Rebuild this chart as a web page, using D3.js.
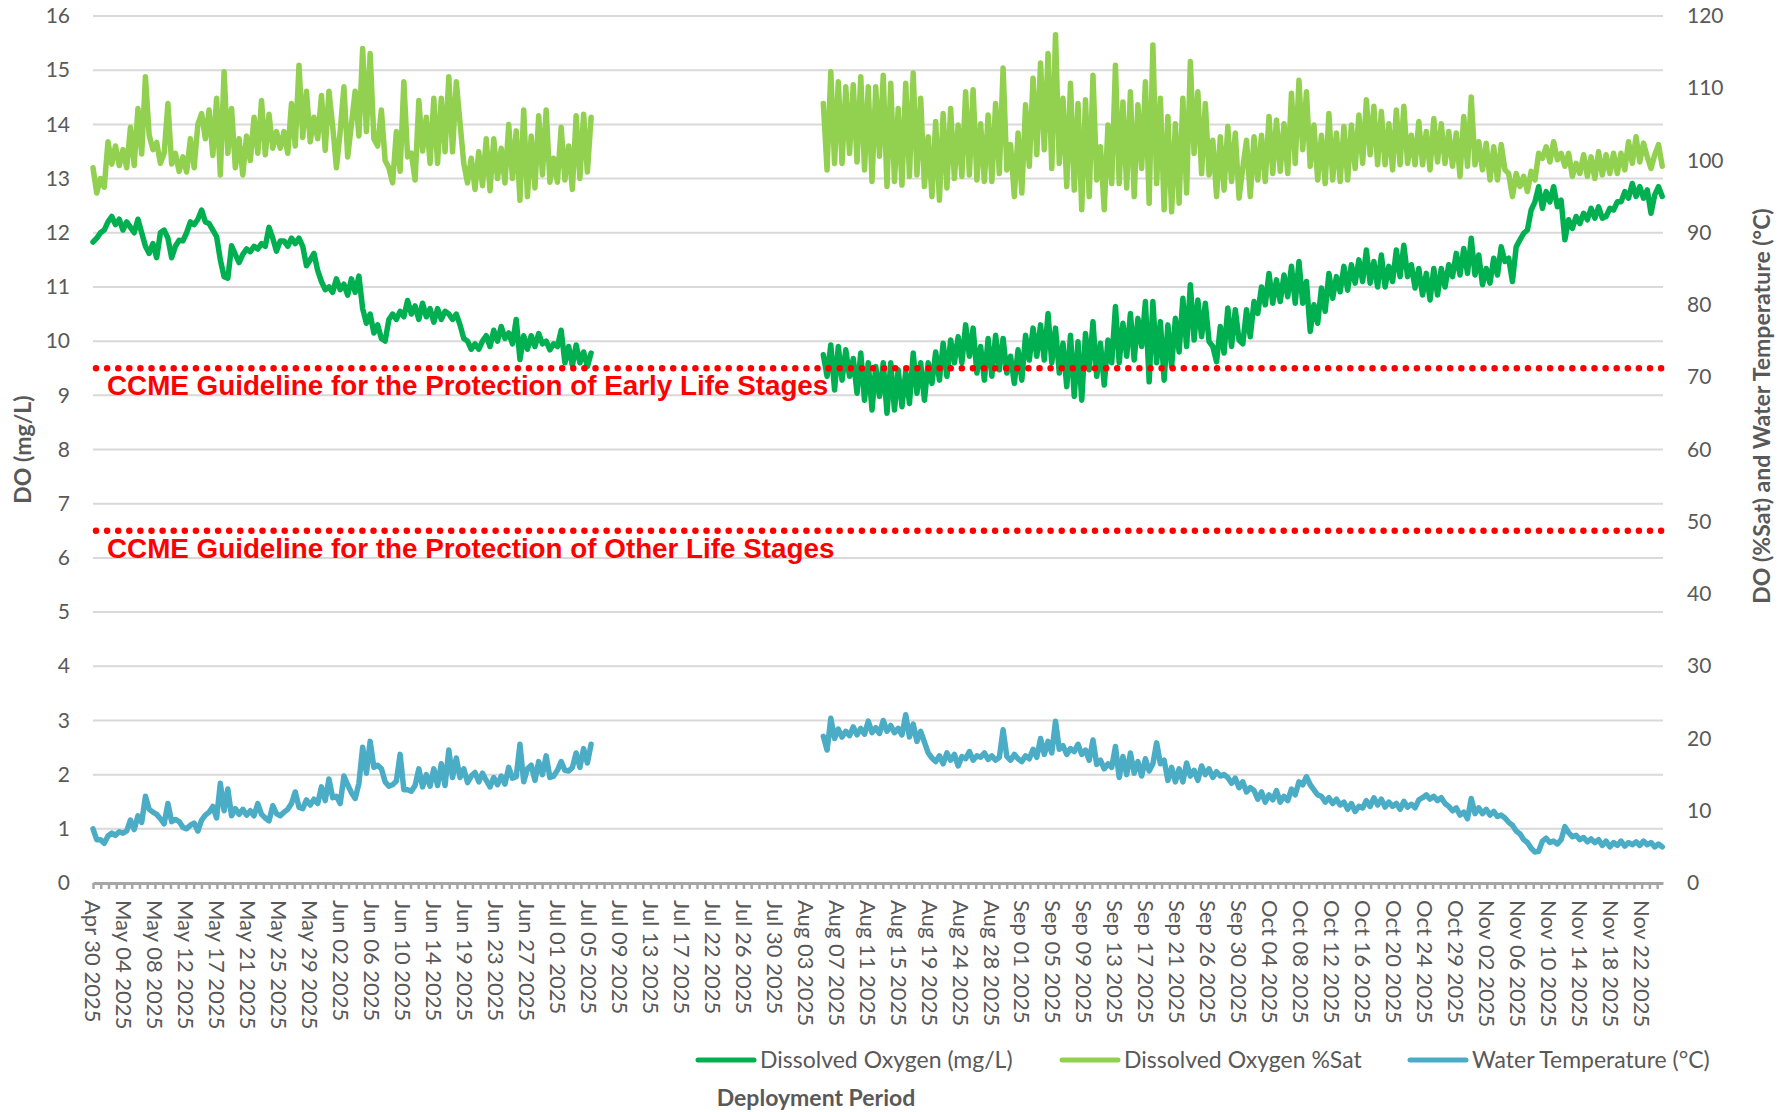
<!DOCTYPE html>
<html>
<head>
<meta charset="utf-8">
<script src="https://cdn.jsdelivr.net/npm/d3@7"></script>
<style>
  body { margin: 0; background: #fff; }
  svg text { font-family: Lato, "Open Sans", sans-serif; }
</style>
</head>
<body>
<svg id="chart" width="1789" height="1112"></svg>
<script>
// x axis labels, one every labelStepDays (logger rows at a fixed interval)
const xLabels = ["Apr 30 2025","May 04 2025","May 08 2025","May 12 2025","May 17 2025","May 21 2025","May 25 2025","May 29 2025",
  "Jun 02 2025","Jun 06 2025","Jun 10 2025","Jun 14 2025","Jun 19 2025","Jun 23 2025","Jun 27 2025",
  "Jul 01 2025","Jul 05 2025","Jul 09 2025","Jul 13 2025","Jul 17 2025","Jul 22 2025","Jul 26 2025","Jul 30 2025",
  "Aug 03 2025","Aug 07 2025","Aug 11 2025","Aug 15 2025","Aug 19 2025","Aug 24 2025","Aug 28 2025",
  "Sep 01 2025","Sep 05 2025","Sep 09 2025","Sep 13 2025","Sep 17 2025","Sep 21 2025","Sep 26 2025","Sep 30 2025",
  "Oct 04 2025","Oct 08 2025","Oct 12 2025","Oct 16 2025","Oct 20 2025","Oct 24 2025","Oct 29 2025",
  "Nov 02 2025","Nov 06 2025","Nov 10 2025","Nov 14 2025","Nov 18 2025","Nov 22 2025"];
const labelStepDays = 4.135;
const axisEndDay = 209.6;
const sampleStepDays = 0.5;

// two deployments, gap in between
const seg1StartDay = 0;
const seg2StartDay = 97.5;

const leftTicks = d3.range(0, 17, 1);
const rightTicks = d3.range(0, 121, 10);

// Dissolved Oxygen (mg/L)
const doSeg1 = [11.83,11.9,12.0,12.05,12.2,12.3,12.15,12.25,12.05,12.2,
  12.1,12.0,12.25,12.0,11.75,11.62,11.8,11.54,12.0,12.05,
  11.9,11.54,11.75,11.86,11.85,12.0,12.2,12.15,12.25,12.42,
  12.2,12.17,12.05,11.93,11.5,11.19,11.16,11.76,11.6,11.45,
  11.6,11.7,11.65,11.75,11.7,11.8,11.75,12.1,11.9,11.66,
  11.85,11.85,11.75,11.9,11.8,11.9,11.75,11.39,11.5,11.62,
  11.3,11.1,10.95,11.0,10.9,11.15,10.95,11.05,10.85,11.15,
  10.9,11.2,10.6,10.33,10.5,10.15,10.3,10.05,10.0,10.4,
  10.5,10.4,10.55,10.45,10.75,10.5,10.65,10.4,10.7,10.45,
  10.6,10.35,10.6,10.4,10.55,10.5,10.4,10.5,10.3,10.05,
  10.0,9.85,9.95,9.85,10.0,10.1,9.9,10.2,10.0,10.27,
  10.05,10.15,9.95,10.4,9.66,10.1,9.85,10.1,9.9,10.14,
  9.95,10.0,9.84,9.95,9.9,10.2,9.6,9.9,9.55,9.93,
  9.6,9.8,9.53,9.78];
const doSeg2 = [9.75,9.35,9.93,9.1,9.9,9.28,9.84,9.35,9.68,9.04,
  9.78,8.91,9.6,8.73,9.53,8.98,9.6,8.67,9.6,8.73,
  9.47,8.79,9.44,8.85,9.78,9.04,9.6,8.91,9.6,9.22,
  9.8,9.28,9.96,9.35,10.02,9.6,10.08,9.6,10.3,9.72,
  10.24,9.41,9.9,9.28,10.05,9.35,10.11,9.47,10.05,9.41,
  9.72,9.22,9.84,9.28,10.11,9.65,10.24,9.72,10.3,9.65,
  10.51,9.6,10.24,9.41,9.96,9.16,10.11,8.98,9.99,8.91,
  10.14,9.47,10.36,9.35,9.96,9.19,10.02,9.6,10.64,9.6,
  10.33,9.72,10.51,9.65,10.42,9.9,10.73,9.25,10.73,9.6,
  10.36,9.28,10.3,9.53,10.42,9.8,10.79,9.9,11.04,10.02,
  10.76,10.08,10.7,9.99,9.9,9.62,10.27,9.78,10.61,9.9,
  10.58,10.02,9.95,
  10.58,10.08,10.73,10.51,11.0,10.67,11.25,10.7,11.13,10.73,
  11.22,10.82,11.38,10.7,11.47,10.7,11.1,10.18,10.67,10.33,
  10.98,10.55,11.25,10.79,11.19,10.91,11.38,10.94,11.41,11.07,
  11.5,11.1,11.68,11.07,11.47,11.0,11.59,11.0,11.38,11.1,
  11.68,11.19,11.77,11.19,11.41,10.98,11.34,10.85,11.25,10.76,
  11.34,10.85,11.34,11.0,11.41,11.19,11.62,11.22,11.71,11.25,
  11.9,11.22,11.59,11.04,11.34,11.07,11.53,11.22,11.74,11.47,
  11.53,11.1,11.74,11.87,11.99,12.05,12.42,12.57,12.85,12.45,
  12.76,12.57,12.85,12.48,12.6,11.87,12.24,12.08,12.3,12.17,
  12.36,12.24,12.45,12.27,12.48,12.27,12.3,12.45,12.42,12.57,
  12.57,12.76,12.64,12.91,12.67,12.85,12.64,12.79,12.36,12.7,
  12.85,12.67];

// Dissolved Oxygen %Sat
const satSeg1 = [99,95.5,97.5,96.3,102.6,99.5,102,99.3,101.5,99,
  104.6,99.3,107.2,100.9,111.6,103.5,101.5,102.5,99.6,101,
  107.9,99.5,101,98.5,100.5,98.4,103,99,105,106.5,
  103,107,100.7,108.6,98,112.3,101,107.2,99,103,
  98,103.4,100,106,101,108.3,100.8,106.4,101.7,104,
  101.7,104,101,107.9,102,113.2,103.2,109.6,102.6,106,
  103,109,101.4,109.6,104.7,99,104,110.2,100.5,105,
  109.6,103.4,115.5,104,114.8,103,102,107,100,99,
  96.9,104,98.5,110.9,100.5,101,97.3,108.3,101.3,106,
  99.6,108.6,99.6,108.6,101.2,111.6,101.2,110.9,105.2,99.6,
  96.9,100.3,96,101.2,96.5,103,95.8,103,97.5,101.7,
  96.9,105,97.5,104.1,94.5,107,95,103.4,96.2,106.2,
  98,107,97,100.3,97,104.6,97.3,102,96,106.2,
  97.5,106.4,98.4,106];
const satSeg2 = [107.9,98.7,112.3,99.6,110.9,99.6,110.2,101,110.5,99.8,
  111.6,98.7,110.2,97.1,110.2,100.6,111.8,96.4,110.7,97.1,
  107.2,96.6,110.7,97.8,112.1,98,108.6,96.4,103.3,95,
  105.4,94.5,106.5,96.2,107.2,97.5,104.9,97.8,109.5,98,
  109.8,97.3,105.1,97.1,106.3,97.1,107.9,98.2,112.8,98.7,
  102.2,95,103.8,95.5,107.7,99.2,111.4,100.8,113.5,101.5,
  114.8,98.9,117.4,99.6,108.6,96.4,110.7,95.9,107.9,93.2,
  108.4,95,111.8,97.3,101.9,93.2,104.9,96.8,113.2,96.8,
  108.1,96.2,109.5,95,107.7,98.9,110.9,94.1,116,96.8,
  108.6,93.2,106.1,92.9,105.1,94.1,108.6,95.5,113.7,101,
  109.5,98.2,107.9,98,102.8,95,103.3,95.9,104.7,97.1,
  103.8,94.8,99,
  102.8,95,103.3,97.3,103.5,97.1,106.1,98.2,105.6,98.5,
  105.1,98.2,109.3,99.6,111.1,101.5,109.5,99.2,104.9,97.3,
  103.5,96.8,106.5,97.3,103.8,97.1,104.7,97.3,104.9,98.9,
  106.3,99.6,108.4,100.8,107.5,99.4,106.8,99.4,105.1,98.7,
  107,99.4,107.5,99.6,103.5,99.4,105.4,99.4,104,98.7,
  105.8,99.8,105.1,99.6,104,99.2,103.8,97.8,106.1,99.2,
  108.8,99.4,102.6,98.7,102.4,97.3,101.9,97.3,102.2,98.7,
  98.2,95,98.2,96.4,97.8,95.7,98.5,97.3,101,100.3,
  101.9,99.8,102.6,100.1,101,99.2,101,97.8,99.6,98.2,
  100.8,97.8,100.5,97.5,101.2,98,100.8,98.2,101,98.2,
  101,98.7,102.6,99.6,103.3,99.8,102.4,100.5,98.9,100.8,
  102.2,99.2];

// Water Temperature (°C)
const tempSeg1 = [7.5,6.0,6.0,5.5,6.5,6.9,6.6,7.1,6.9,7.2,
  8.7,7.4,9.3,8.4,12.0,10.2,9.8,9.5,8.9,8.2,
  11.0,8.5,8.8,8.5,7.7,7.5,8.0,8.3,7.2,8.7,
  9.4,9.8,10.6,9.0,13.8,10.0,13.0,9.3,10.3,9.5,
  10.2,9.4,10.0,9.3,11.0,9.5,9.0,8.6,10.7,9.6,
  9.3,9.8,10.2,11.0,12.6,10.5,10.3,11.5,10.8,11.6,
  11.0,13.3,11.4,14.4,11.8,12.0,11.0,14.8,13.6,12.5,
  11.7,13.8,18.8,15.2,19.6,16.0,16.3,15.8,14.0,13.4,
  13.6,14.1,17.8,12.9,12.9,12.7,13.5,15.8,13.3,15.0,
  13.4,15.8,13.5,16.5,13.5,18.4,14.6,17.3,14.6,15.8,
  13.9,14.8,15.3,14.0,15.2,14.2,13.3,14.6,13.6,14.8,
  13.7,16.0,14.5,14.7,19.2,14.0,15.8,16.3,14.2,16.8,
  15.0,17.6,14.6,14.8,15.6,16.8,15.6,15.5,16.0,18.0,
  16.0,18.6,16.6,19.2];
const tempSeg2 = [20.3,18.4,22.8,
  20.0,21.3,20.2,21.0,20.4,21.6,20.5,21.4,20.6,22.4,
  20.8,21.5,20.7,22.5,21.0,21.8,20.8,21.4,20.5,23.3,
  20.2,22.0,19.6,21.0,19.5,18.0,17.3,16.8,17.6,
  16.5,18.0,17.0,17.8,16.2,17.5,17.2,18.2,17.0,17.6,17.4,18.0,17.1,17.6,
  17.0,17.4,21.2,17.5,17.0,17.8,17.2,16.8,17.6,17.2,
  18.5,17.4,20.0,17.8,19.6,18.0,22.4,
  18.5,19.0,17.8,18.6,18.2,19.2,17.8,18.4,17.0,19.8,
  16.4,17.0,15.8,16.5,16.0,18.9,14.6,
  17.5,15.0,18.0,15.2,16.8,14.8,17.2,15.5,16.5,19.4,
  16.5,17.0,14.2,16.0,14.0,
  15.8,14.0,16.6,14.8,15.6,14.2,16.2,15.0,15.8,14.6,15.4,14.8,15.0,
  14.6,13.8,14.5,13.2,14.0,12.6,13.2,
  12.8,11.6,12.6,11.2,12.2,11.5,12.8,11.2,12.0,11.4,13.0,12.2,
  14.0,13.6,14.7,13.6,
  12.9,12.2,12.0,11.2,11.8,11.0,11.6,10.8,
  11.2,10.2,11.0,9.9,10.6,10.4,
  11.4,10.6,11.8,10.8,11.6,10.5,11.2,10.6,11.0,10.2,11.3,10.5,10.9,10.4,
  11.5,11.8,12.2,11.6,12.0,11.4,11.8,
  11.0,10.6,10.0,10.4,9.4,9.8,8.9,11.7,
  9.6,10.4,9.6,10.2,9.4,9.9,9.2,
  9.4,9.0,8.4,8.0,7.2,6.8,6.0,5.6,4.8,4.3,4.4,
  5.8,6.2,5.6,5.8,5.4,6.0,7.8,
  7.0,6.4,6.6,6.0,6.3,5.7,6.1,5.6,
  6.0,5.2,5.8,5.0,5.6,5.2,5.8,5.1,5.6,5.3,5.7,5.2,5.8,5.3,5.6,5.0,5.4,5.0];

// CCME guideline values (mg/L)
const guidelineValues = [9.5, 6.5];
const guidelineLabels = ["CCME Guideline for the Protection of Early Life Stages",
                         "CCME Guideline for the Protection of Other Life Stages"];

const seriesNames = ["Dissolved Oxygen (mg/L)", "Dissolved Oxygen %Sat", "Water Temperature (°C)"];
const seriesColors = ["#00b050", "#92d050", "#4bacc6"];

// ------
const svg = d3.select("#chart");
const plot = { left: 93, right: 1663, top: 16, bottom: 883 };
const textGrey = "#595959";

const x = d3.scaleLinear().domain([0, axisEndDay]).range([plot.left, plot.right]);
const yL = d3.scaleLinear().domain([0, 16]).range([plot.bottom, plot.top]);
const yR = d3.scaleLinear().domain([0, 120]).range([plot.bottom, plot.top]);

// gridlines
svg.append("g")
  .selectAll("line")
  .data(leftTicks.filter(d => d > 0))
  .join("line")
  .attr("x1", plot.left).attr("x2", plot.right)
  .attr("y1", d => yL(d)).attr("y2", d => yL(d))
  .attr("stroke", "#d9d9d9").attr("stroke-width", 2);

// left axis
let gLeft = svg.append("g")
  .attr("transform", "translate(" + plot.left + ",0)")
  .call(d3.axisLeft(yL).tickValues(leftTicks).tickSize(0).tickPadding(23));
gLeft.select(".domain").remove();
gLeft.attr("font-size", 21);
gLeft.selectAll("text").attr("fill", textGrey);

// right axis
let gRight = svg.append("g")
  .attr("transform", "translate(" + plot.right + ",0)")
  .call(d3.axisRight(yR).tickValues(rightTicks).tickSize(0).tickPadding(24));
gRight.select(".domain").remove();
gRight.attr("font-size", 21);
gRight.selectAll("text").attr("fill", textGrey);

// bottom axis: minor ticks every quarter label step
let minorTicks = d3.range(0, axisEndDay, labelStepDays / 4);
let gBottom = svg.append("g")
  .attr("transform", "translate(0," + plot.bottom + ")")
  .call(d3.axisBottom(x).tickValues(minorTicks).tickSize(6).tickSizeOuter(0).tickFormat(""));
gBottom.select(".domain").attr("stroke", "#a6a6a6").attr("stroke-width", 3);
gBottom.selectAll(".tick line").attr("stroke", "#a6a6a6").attr("stroke-width", 2.5);

// rotated date labels
svg.append("g")
  .selectAll("text")
  .data(xLabels)
  .join("text")
  .attr("transform", (d, i) => "translate(" + x(i * labelStepDays) + "," + (plot.bottom + 17) + ") rotate(90)")
  .attr("dy", "0.35em")
  .attr("font-size", 22)
  .attr("fill", textGrey)
  .text(d => d);

// axis titles
svg.append("text")
  .attr("transform", "translate(23," + ((plot.top + plot.bottom) / 2) + ") rotate(-90)")
  .attr("text-anchor", "middle").attr("dy", "0.35em")
  .attr("font-size", 23).attr("font-weight", "bold").attr("fill", textGrey)
  .text("DO (mg/L)");

svg.append("text")
  .attr("transform", "translate(1762,406) rotate(-90)")
  .attr("text-anchor", "middle").attr("dy", "0.35em")
  .attr("font-size", 23).attr("font-weight", "bold").attr("fill", textGrey)
  .text("DO (%Sat) and Water Temperature (°C)");

svg.append("text")
  .attr("x", 816).attr("y", 1098)
  .attr("text-anchor", "middle").attr("dy", "0.35em")
  .attr("font-size", 23).attr("font-weight", "bold").attr("fill", textGrey)
  .text("Deployment Period");

// ------
// series lines
function toPoints(startDay, values) {
  return values.map((v, i) => [startDay + i * sampleStepDays, v]);
}
let series = [
  { scale: yL, segs: [toPoints(seg1StartDay, doSeg1), toPoints(seg2StartDay, doSeg2)] },
  { scale: yR, segs: [toPoints(seg1StartDay, satSeg1), toPoints(seg2StartDay, satSeg2)] },
  { scale: yR, segs: [toPoints(seg1StartDay, tempSeg1), toPoints(seg2StartDay, tempSeg2)] }
];

series.forEach(function (s, k) {
  let line = d3.line().x(d => x(d[0])).y(d => s.scale(d[1]));
  svg.append("g")
    .selectAll("path")
    .data(s.segs)
    .join("path")
    .attr("d", line)
    .attr("fill", "none")
    .attr("stroke", seriesColors[k])
    .attr("stroke-width", 5.5)
    .attr("stroke-linejoin", "round")
    .attr("stroke-linecap", "round");
});

// guideline dotted lines + labels (on top)
let gGuide = svg.append("g");
gGuide.selectAll("line")
  .data(guidelineValues)
  .join("line")
  .attr("x1", plot.left + 3).attr("x2", plot.right)
  .attr("y1", d => yL(d)).attr("y2", d => yL(d))
  .attr("stroke", "#ff0000").attr("stroke-width", 6.5)
  .attr("stroke-linecap", "round")
  .attr("stroke-dasharray", "0 11.1");

gGuide.selectAll("text")
  .data(guidelineValues)
  .join("text")
  .attr("x", 107)
  .attr("y", d => yL(d) + 27)
  .style("font-family", "'Liberation Sans', Arial, sans-serif")
  .attr("font-size", 27.8)
  .attr("font-weight", "bold")
  .attr("fill", "#ff0000")
  .text((d, i) => guidelineLabels[i]);

// legend
let legendX = [698, 1062, 1410];
let legend = svg.append("g")
  .selectAll("g")
  .data(seriesNames)
  .join("g")
  .attr("transform", (d, i) => "translate(" + legendX[i] + ",1060)");
legend.append("line")
  .attr("x1", 0).attr("x2", 56)
  .attr("stroke", (d, i) => seriesColors[i])
  .attr("stroke-width", 5)
  .attr("stroke-linecap", "round");
legend.append("text")
  .attr("x", 62).attr("dy", "0.35em")
  .attr("font-size", 23).attr("fill", textGrey)
  .text(d => d);
</script>
</body>
</html>
